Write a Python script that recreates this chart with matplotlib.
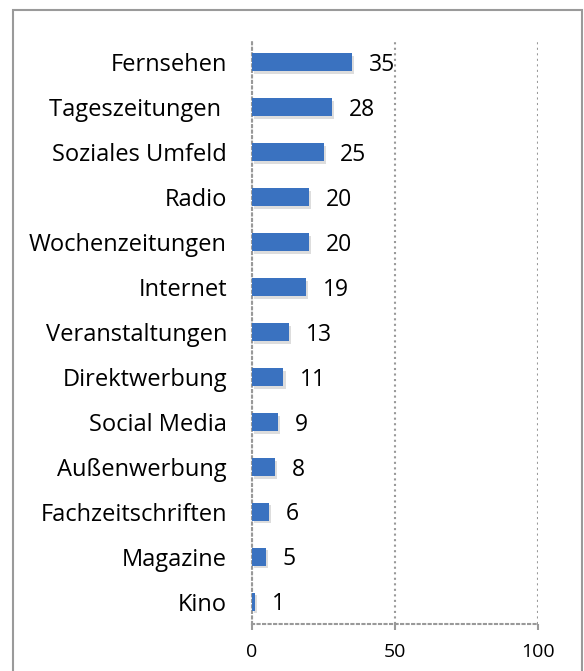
import matplotlib.pyplot as plt
import matplotlib.patheffects as pe
from matplotlib.patches import Rectangle

# data, top to bottom as in the chart
categories = ['Fernsehen', 'Tageszeitungen ', 'Soziales Umfeld', 'Radio', 'Wochenzeitungen',
              'Internet', 'Veranstaltungen', 'Direktwerbung', 'Social Media', 'Außenwerbung',
              'Fachzeitschriften', 'Magazine', 'Kino']
values = [35, 28, 25, 20, 20, 19, 13, 11, 9, 8, 6, 5, 1]
xticks = [0, 50, 100]

plt.rcParams['font.family'] = ['Open Sans', 'DejaVu Sans']

fig = plt.figure(figsize=(5.84, 6.71), dpi=100)
ax = fig.add_axes([252/584, 1 - 624/671, 286/584, 584/671])

# outer chart frame
fig.patches.append(Rectangle((13/584, -0.05), 569/584, 1 - 10/671 + 0.05,
                             transform=fig.transFigure, fill=False,
                             edgecolor='#9a9a9a', linewidth=1.5))

ypos = list(range(len(categories)))[::-1]
bars = ax.barh(ypos, values, height=0.4, color='#3a72c0', zorder=3)
for b in bars:
    b.set_path_effects([pe.SimplePatchShadow(offset=(1.5, -2), shadow_rgbFace='#aaaaaa', alpha=0.4),
                        pe.Normal()])

for y, v in zip(ypos, values):
    ax.annotate(str(v), (v, y), xytext=(12, -2), textcoords='offset points',
                va='center', ha='left', fontsize=16.5, color='black')

ax.set_xlim(0, 100)
ax.set_ylim(-0.5, 12.5)
ax.set_yticks(ypos)
ax.set_yticklabels(categories, fontsize=17)
ax.set_xticks(xticks)
ax.set_xticklabels([str(t) for t in xticks], fontsize=14)

ax.grid(axis='x', color='#999999', linestyle=':', linewidth=1.5, zorder=0)
for s in ['top', 'right']:
    ax.spines[s].set_visible(False)
ax.spines['left'].set_color('#999999')
ax.spines['left'].set_linestyle(':')
ax.spines['left'].set_linewidth(1.5)
ax.spines['bottom'].set_color('#999999')
ax.spines['bottom'].set_linestyle(':')
ax.spines['bottom'].set_linewidth(1.5)
ax.tick_params(axis='y', length=0, pad=18)
ax.tick_params(axis='x', length=4, color='#999999', width=1.5, pad=10)

fig.savefig('out.png', dpi=100)
